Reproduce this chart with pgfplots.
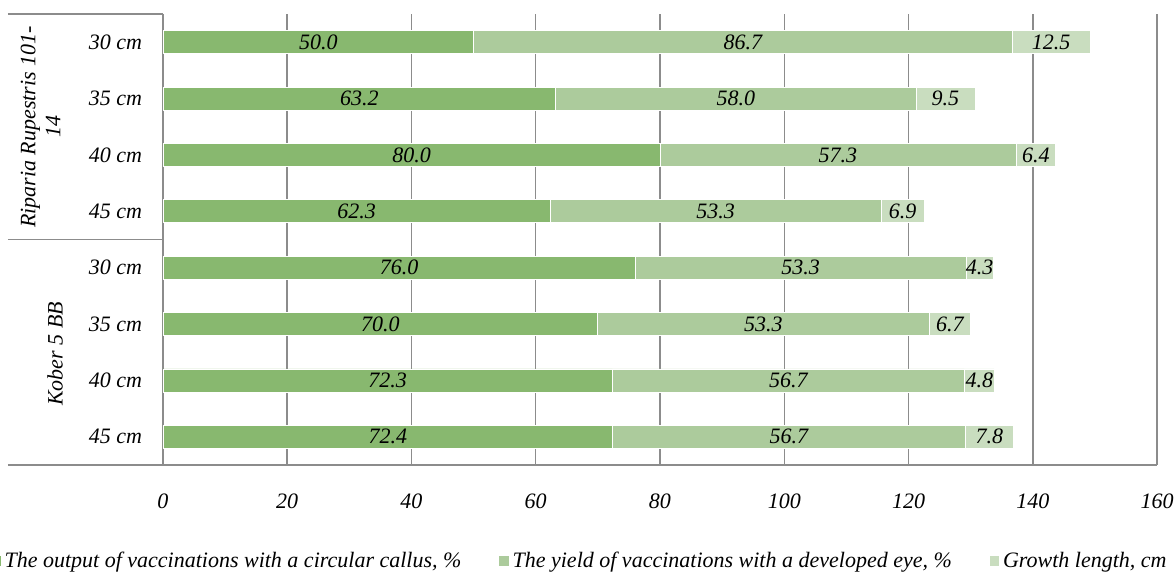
\documentclass[border=0pt]{standalone}
\usepackage{pgfplots}
\pgfplotsset{compat=1.18}
\usepackage{pgfplotstable}
\usepackage{fontspec}
\setmainfont{Liberation Serif}

\definecolor{callus}{HTML}{88B86F}
\definecolor{eye}{HTML}{ACCB9C}
\definecolor{growth}{HTML}{C9DDBF}
\definecolor{gridgray}{HTML}{8C8C8C}

% rows from top to bottom:
% Riparia Rupestris 101-14: 30, 35, 40, 45 cm; Kober 5 BB: 30, 35, 40, 45 cm
\pgfplotstableread{
row callus eye  growth
0   50.0   86.7 12.5
1   63.2   58.0 9.5
2   80.0   57.3 6.4
3   62.3   53.3 6.9
4   76.0   53.3 4.3
5   70.0   53.3 6.7
6   72.3   56.7 4.8
7   72.4   56.7 7.8
}\datatable

\newcommand{\chartfont}{\fontsize{11}{12.5}\selectfont\itshape}

\pgfplotsset{
  frame/.style={
    at={(0,0)}, anchor=south west,
    scale only axis, width=497pt, height=225.5pt,
    xmin=0, xmax=160, ymin=-0.5, ymax=7.5, y dir=reverse,
  },
  % value labels centred on each stacked segment
  seglabel/.style={
    draw=none, mark=none, forget plot,
    point meta=explicit,
    nodes near coords={\pgfmathprintnumber[fixed,fixed zerofill,precision=1,assume math mode=true]{\pgfplotspointmeta}},
    every node near coord/.append style={anchor=center, font=\chartfont, text=black},
  },
}

\begin{document}
\begin{tikzpicture}[font=\chartfont]
\begin{axis}[
  frame,
  xbar stacked, bar width=11.5pt,
  xtick={0,20,...,160}, ytick={0,...,7},
  yticklabels={30 cm,35 cm,40 cm,45 cm,30 cm,35 cm,40 cm,45 cm},
  major tick length=0pt,
  axis line style={draw=none},
  xmajorgrids, grid style={gridgray, line width=0.75pt},
  /pgf/number format/assume math mode=true,
  tick label style={font=\chartfont, text=black},
  xticklabel style={anchor=north, yshift=-11pt},
  yticklabel style={anchor=east, xshift=-7pt},
  clip=false,
  legend columns=3,
  legend cell align=left,
  legend image code/.code={\fill[#1] (0pt,-2.6pt) rectangle (5.2pt,2.6pt);},
  legend style={draw=none, fill=none, font=\chartfont,
    at={(1.0131,-0.2129)}, anchor=east, inner sep=0pt,
    nodes={inner sep=1.5pt},
    /tikz/every even column/.append style={column sep=17pt}},
]
\addplot[fill=callus, draw=white, line width=0.4pt] table[x=callus, y=row] {\datatable};
\addlegendentry{The output of vaccinations with a circular callus, \%}
\addplot[fill=eye, draw=white, line width=0.4pt] table[x=eye, y=row] {\datatable};
\addlegendentry{The yield of vaccinations with a developed eye, \%}
\addplot[fill=growth, draw=white, line width=0.4pt] table[x=growth, y=row] {\datatable};
\addlegendentry{Growth length, cm}
\end{axis}

\begin{axis}[frame, hide axis, clip=false]
\addplot[seglabel] table[x expr=\thisrow{callus}/2, y=row, meta=callus] {\datatable};
\addplot[seglabel] table[x expr=\thisrow{callus}+\thisrow{eye}/2, y=row, meta=eye] {\datatable};
\addplot[seglabel] table[x expr=\thisrow{callus}+\thisrow{eye}+\thisrow{growth}/2, y=row, meta=growth] {\datatable};
\end{axis}

% category group frame
\draw[gridgray, line width=0.75pt] (-77.5pt,225.5pt) -- (0pt,225.5pt);
\draw[gridgray, line width=0.75pt] (-77.5pt,112.75pt) -- (0pt,112.75pt);
\draw[gridgray, line width=0.75pt] (-77.5pt,0pt) -- (497pt,0pt);

% group names
\node[rotate=90, align=center, font=\chartfont] at (-61.25pt,169pt) {Riparia Rupestris 101-\\14};
\node[rotate=90, font=\chartfont] at (-54pt,55.5pt) {Kober 5 BB};

\pgfresetboundingbox
\path[use as bounding box] (-81.5pt,-53.5pt) rectangle (505.5pt,232.5pt);
\end{tikzpicture}
\end{document}
